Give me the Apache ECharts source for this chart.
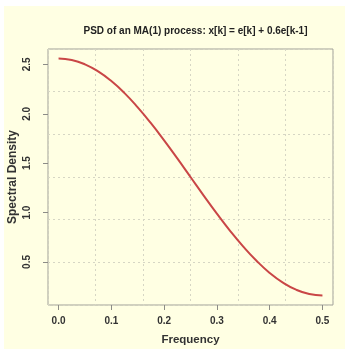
<!DOCTYPE html>
<html>
<head>
<meta charset="utf-8">
<script src="https://cdn.jsdelivr.net/npm/echarts@6/dist/echarts.min.js"></script>
<style>
html,body{margin:0;padding:0;background:#ffffff;}
#wrap{position:absolute;left:4px;top:6px;width:341px;height:343px;background:#FFFFE3;}
#chart{width:341px;height:343px;}
</style>
</head>
<body>
<div id="wrap"><div id="chart"></div></div>
<script>
var titleText = 'PSD of an MA(1) process: x[k] = e[k] + 0.6e[k-1]';
var xName = 'Frequency';
var yName = 'Spectral Density';
var frequency = [0, 0.025, 0.05, 0.075, 0.1, 0.125, 0.15, 0.175, 0.2, 0.225, 0.25, 0.275, 0.3, 0.325, 0.35, 0.375, 0.4, 0.425, 0.45, 0.475, 0.5];
var density = [2.560, 2.545, 2.501, 2.429, 2.331, 2.209, 2.065, 1.905, 1.731, 1.548, 1.360, 1.172, 0.989, 0.815, 0.655, 0.512, 0.389, 0.291, 0.219, 0.175, 0.160];
var xTicks = [0, 0.1, 0.2, 0.3, 0.4, 0.5];
var yTicks = [0.5, 1.0, 1.5, 2.0, 2.5];

var points = frequency.map(function(f, i){ return [f, density[i]]; });
var font = "'Liberation Sans', Arial, sans-serif";
var chart = echarts.init(document.getElementById('chart'), null, {renderer:'canvas'});
var gridStyle = {show:true, lineStyle:{color:'#d6d6c4', type:[2,3], width:1}};
chart.setOption({
  animation:false,
  title:{text:titleText, left:186.5, top:15, textAlign:'center',
    textStyle:{fontFamily:font, fontSize:10, fontWeight:'bold', color:'#222'}},
  grid:{left:44, top:43, width:285, height:256, containLabel:false, outerBoundsMode:'none',
    show:true, borderColor:'#a0a098', borderWidth:1, backgroundColor:'transparent'},
  xAxis:[{
    type:'value', min:-0.02, max:0.52,
    axisLine:{show:false, onZero:false},
    axisTick:{show:true, customValues:xTicks, length:5, lineStyle:{color:'#8c8c86'}},
    axisLabel:{customValues:xTicks, margin:11, fontFamily:font, fontSize:10, fontWeight:'bold', color:'#333',
      formatter:function(v){return v.toFixed(1);}},
    splitLine:{show:false},
    name:xName, nameLocation:'middle', nameGap:29,
    nameTextStyle:{fontFamily:font, fontSize:11.5, fontWeight:'bold', color:'#333'}
  },{
    type:'value', min:0, max:6, interval:1, position:'top',
    axisLine:{show:false, onZero:false}, axisTick:{show:false}, axisLabel:{show:false},
    splitLine:gridStyle
  }],
  yAxis:[{
    type:'value', min:0.064, max:2.656,
    axisLine:{show:false, onZero:false},
    axisTick:{show:true, customValues:yTicks, length:5, lineStyle:{color:'#8c8c86'}},
    axisLabel:{customValues:yTicks, rotate:90, margin:16, fontFamily:font, fontSize:10, fontWeight:'bold', color:'#333',
      formatter:function(v){return v.toFixed(1);}},
    splitLine:{show:false},
    name:yName, nameLocation:'middle', nameGap:29, nameRotate:90, nameMoveOverlap:false,
    nameTextStyle:{fontFamily:font, fontSize:12, fontWeight:'bold', color:'#333'}
  },{
    type:'value', min:0, max:6, interval:1, position:'right',
    axisLine:{show:false, onZero:false}, axisTick:{show:false}, axisLabel:{show:false},
    splitLine:gridStyle
  }],
  series:[{
    type:'line', xAxisIndex:0, yAxisIndex:0, data:points, smooth:true, symbol:'none',
    lineStyle:{color:'#c94646', width:2}
  }]
});
</script>
</body>
</html>
